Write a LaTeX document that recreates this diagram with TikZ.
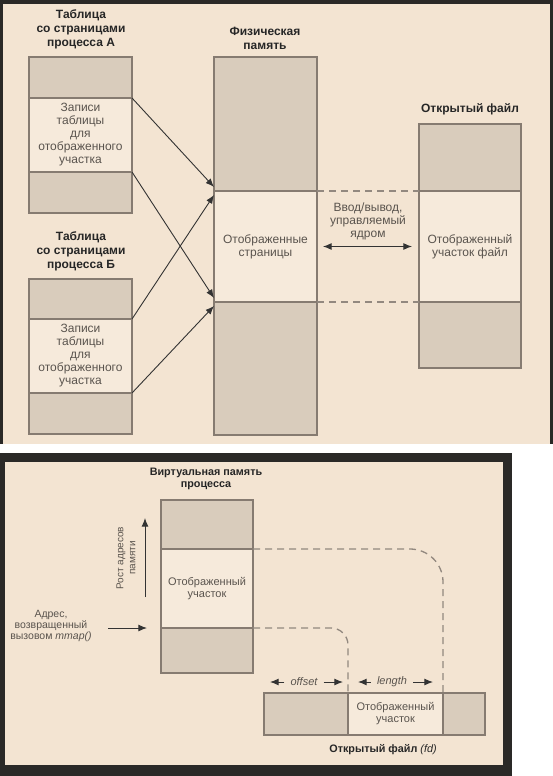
\documentclass[tikz,border=0pt]{standalone}
\usepackage{fontspec}
\setmainfont{Liberation Sans}
\usepackage{tikz}
\usetikzlibrary{positioning,arrows.meta,calc}
\definecolor{bgc}{HTML}{F3E4D2}
\definecolor{segc}{HTML}{D9CCBC}
\definecolor{litc}{HTML}{F6EADB}
\definecolor{linec}{HTML}{867B71}
\definecolor{txtc}{HTML}{5A544E}
\definecolor{frmc}{HTML}{2A2927}
\tikzset{
  seg/.style={draw=linec,fill=segc,line width=1.2pt,inner sep=0pt,outer sep=0pt},
  lit/.style={seg,fill=litc,align=center,text=txtc},
  ttl/.style={align=center,font=\bfseries\fontsize{12}{14}\selectfont,text=black!85},
  ttlsm/.style={align=center,font=\bfseries\fontsize{10.8}{12}\selectfont,text=black!85},
  txt/.style={align=center,text=txtc},
  itx/.style={text=txtc,inner xsep=6pt,font=\itshape\fontsize{11}{12}\selectfont},
  fl/.style={-{Latex[length=3mm,width=2.4mm]},line width=0.9pt,draw=black!80},
  dfl/.style={{Latex[length=3mm,width=2.4mm]}-{Latex[length=3mm,width=2.4mm]},line width=0.9pt,draw=black!80},
  dsh/.style={draw=linec!90,line width=1.3pt,dash pattern=on 7pt off 5pt},
}
\begin{document}
\begin{tikzpicture}[x=1pt,y=-1pt]
% panels
\fill[frmc] (0,0) rectangle (553,444);
\fill[bgc] (3,4) rectangle (550,444);
\fill[frmc] (0,453) rectangle (512,776);
\fill[bgc] (5,462) rectangle (503,765);
\useasboundingbox (0,0) rectangle (553,776);

\begin{scope}[font=\fontsize{12}{13}\selectfont]
% page table A
\node[ttl] (aTtl) at (81,29) {Таблица\\со страницами\\процесса А};
\node[seg,minimum width=103pt,minimum height=41pt,anchor=north west] (aTop) at (29,57) {};
\node[lit,minimum width=103pt,minimum height=74pt,below=0pt of aTop] (aMid)
  {Записи\\таблицы\\для\\отображенного\\участка};
\node[seg,minimum width=103pt,minimum height=41pt,below=0pt of aMid] (aBot) {};
% page table B
\node[ttl] (bTtl) at (81,251) {Таблица\\со страницами\\процесса Б};
\node[seg,minimum width=103pt,minimum height=40pt,anchor=north west] (bTop) at (29,279) {};
\node[lit,minimum width=103pt,minimum height=74pt,below=0pt of bTop] (bMid)
  {Записи\\таблицы\\для\\отображенного\\участка};
\node[seg,minimum width=103pt,minimum height=41pt,below=0pt of bMid] (bBot) {};
% physical memory
\node[ttl] (pmTtl) at (265,38) {Физическая\\память};
\node[seg,minimum width=103pt,minimum height=134pt,anchor=north west] (pmTop) at (214,57) {};
\node[lit,minimum width=103pt,minimum height=111pt,below=0pt of pmTop] (pmMid)
  {Отображенные\\страницы};
\node[seg,minimum width=103pt,minimum height=133pt,below=0pt of pmMid] (pmBot) {};
% open file
\node[ttl] (fTtl) at (470,109) {Открытый файл};
\node[seg,minimum width=102pt,minimum height=67pt,anchor=north west] (fTop) at (419,124) {};
\node[lit,minimum width=102pt,minimum height=111pt,below=0pt of fTop] (fMid)
  {Отображенный\\участок файл};
\node[seg,minimum width=102pt,minimum height=66pt,below=0pt of fMid] (fBot) {};
% mappings
\draw[fl] (aMid.north east) -- ($(pmMid.north west)+(0,-4)$);
\draw[fl] (bMid.north east) -- ($(pmMid.north west)+(0,4)$);
\draw[fl] (aMid.south east) -- ($(pmMid.south west)+(0,-4)$);
\draw[fl] (bMid.south east) -- ($(pmMid.south west)+(0,4)$);
\draw[dsh] (pmMid.north east) -- (fMid.north west);
\draw[dsh] (pmMid.south east) -- (fMid.south west);
% kernel i/o
\node[txt] (io) at (368,221) {Ввод/вывод,\\управляемый\\ядром};
\coordinate (ioL) at ($(pmMid.east)+(6,0)$);
\coordinate (ioR) at ($(fMid.west)+(-7,0)$);
\draw[dfl] (ioL) -- (ioR);
\end{scope}

\begin{scope}[font=\fontsize{11}{12}\selectfont]
% process virtual memory
\node[ttlsm] (vTtl) at (206,479) {Виртуальная память\\процесса};
\node[seg,minimum width=92pt,minimum height=49pt,anchor=north west] (vTop) at (161,500) {};
\node[lit,minimum width=92pt,minimum height=79pt,below=0pt of vTop] (vMid)
  {Отображенный\\участок};
\node[seg,minimum width=92pt,minimum height=45pt,below=0pt of vMid] (vBot) {};
% growth
\coordinate (grB) at (145,597);
\coordinate (grT) at (145,518);
\draw[fl] (grB) -- (grT);
\node[txt,rotate=90,font=\fontsize{10}{12}\selectfont] (grTxt) at (126,558) {Рост адресов\\памяти};
% mmap address
\node[txt,font=\fontsize{10.5}{10.8}\selectfont] (mmTxt) at (51,626)
  {Адрес,\\возвращенный\\вызовом \textit{mmap()}};
\coordinate (mmL) at (108,628);
\coordinate (mmR) at (147,628);
\draw[fl] (mmL) -- (mmR);
% open file (fd)
\node[seg,minimum width=84pt,minimum height=42pt,anchor=north west] (fdA) at (264,693) {};
\node[lit,minimum width=95pt,minimum height=42pt,right=0pt of fdA] (fdB) {Отображенный\\участок};
\node[seg,minimum width=42pt,minimum height=42pt,right=0pt of fdB] (fdC) {};
\node[ttlsm] (fdTtl) at (383,750) {Открытый файл {\mdseries\itshape (fd)}};
% offset / length
\node[itx] (offTxt) at (304,682) {offset};
\node[itx] (lenTxt) at (392,682) {length};
\coordinate (offL) at ($(fdA.north west)+(6,-11)$);
\coordinate (offR) at ($(fdA.north east)+(-5,-11)$);
\coordinate (lenL) at ($(fdB.north west)+(10,-11)$);
\coordinate (lenR) at ($(fdB.north east)+(-10,-11)$);
\draw[fl] (offTxt.west) -- (offL);
\draw[fl] (offTxt.east) -- (offR);
\draw[fl] (lenTxt.west) -- (lenL);
\draw[fl] (lenTxt.east) -- (lenR);
% mapped range
\draw[dsh,rounded corners=33pt] (vMid.north east) -- (vMid.north east -| fdB.north east) -- (fdB.north east);
\draw[dsh,rounded corners=17pt] (vBot.north east) -- (vBot.north east -| fdB.north west) -- (fdB.north west);
\end{scope}
\end{tikzpicture}
\end{document}
